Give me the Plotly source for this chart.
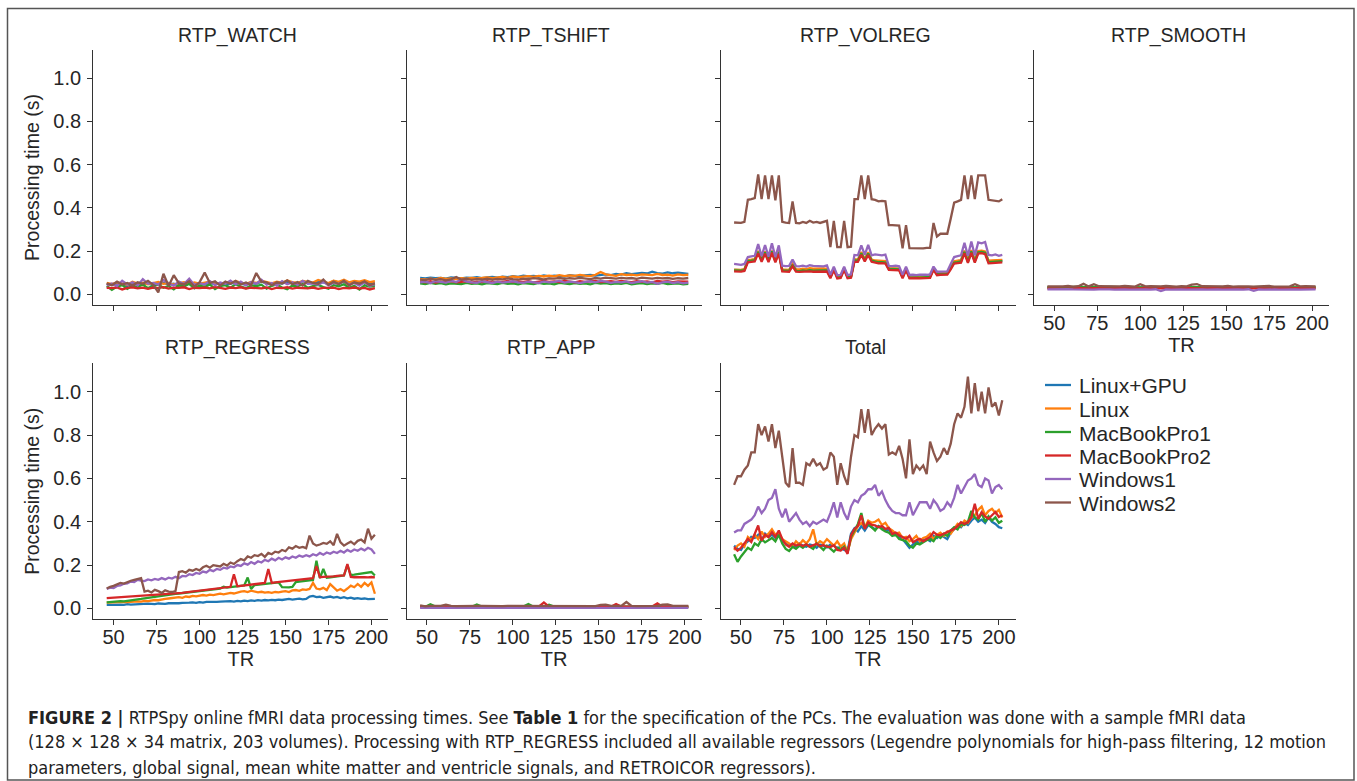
import plotly.graph_objects as go

# ---------------- data (milliseconds) ----------------
TR2 = list(range(46, 203, 2))   # 79 TRs
TR3 = list(range(46, 203, 3))   # 53 TRs

SERIES = ["Linux+GPU", "Linux", "MacBookPro1", "MacBookPro2", "Windows1", "Windows2"]
COLORS = ["#1f77b4", "#ff7f0e", "#2ca02c", "#d62728", "#9467bd", "#8c564b"]
PANELS = ["RTP_WATCH", "RTP_TSHIFT", "RTP_VOLREG", "RTP_SMOOTH", "RTP_REGRESS", "RTP_APP", "Total"]
YTICKS = [0.0, 0.2, 0.4, 0.6, 0.8, 1.0]
XTICKS = [50, 75, 100, 125, 150, 175, 200]

watch_gpu = [48,42,50,45,38,52,47,44,50,41, 46,53,44,49,40,47,51,43,48,45, 52,46,50,42,47,55,49,44,52,48,
             58,50,46,54,49,57,52,48,60,53, 50,58,55,49,61,54,57,50,59,52, 56,48,50]
watch_linux = [52,47,55,50,44,58,49,53,46,51, 57,48,52,45,50,56,47,54,49,52, 58,50,47,55,51,60,53,48,57,52,
               62,55,50,58,53,64,56,52,61,57, 54,66,58,52,63,57,67,55,62,58, 65,56,60]
watch_mbp1 = [38,20,35,42,25,40,33,45,28,39, 44,30,38,22,41,36,48,27,40,33, 45,24,38,42,30,46,35,28,41,37,
              44,26,39,45,31,23,40,36,47,29, 38,43,33,25,42,37,46,30,39,22, 41,35,38]
watch_mbp2 = [30,28,31,22,29,32,27,30,25,31, 28,33,26,30,29,32,24,30,28,31, 27,33,29,25,31,28,32,26,30,29,
              27,31,24,30,28,32,26,30,29,27, 31,25,29,28,30,24,29,27,31,26, 29,22,28]
watch_win1 = [42,50,38,62,45,55,40,70,48,52, 44,66,50,40,58,47,72,43,51,46, 60,42,54,48,63,45,58,41,56,49,
              67,44,52,40,60,46,55,43,62,48, 50,44,57,41,53,47,61,45,52,40, 55,38,46]
watch_win2 = [50,42,58,45,52,40,55,48,62,44, 8,95,38,88,50,45,60,35,55,100, 52,60,40,58,48,62,45,54,42,98,
              58,55,42,55,50,64,46,56,40,62, 52,48,68,44,58,46,62,40,55,48, 60,42,50]

tshift_gpu = [75,73,77,74,76,72,78,75,73,77, 76,79,74,78,80,77,81,79,84,80, 86,82,85,81,87,83,86,84,82,88,
              85,83,87,89,86,90,92,88,94,91, 97,93,95,99,96,104,98,95,101,97, 100,96,94]
tshift_linux = [70,68,72,69,75,71,73,70,74,72, 76,73,75,78,74,77,80,76,82,79, 81,84,80,85,82,86,83,88,84,87,
                85,89,86,84,90,103,92,88,85,93, 89,91,87,92,90,88,94,89,91,86, 92,88,90]
tshift_mbp1 = [50,47,52,48,51,46,50,49,47,52, 48,50,46,51,49,47,52,48,50,46, 51,49,47,53,48,50,46,52,49,47,
               51,48,50,46,52,49,51,47,50,48, 52,46,49,51,47,50,48,52,47,49, 50,46,48]
tshift_mbp2 = [58,55,60,54,58,56,61,55,57,59, 54,58,56,60,55,58,57,61,56,59, 57,60,55,58,62,57,59,56,61,58,
               55,60,57,59,62,56,58,60,57,61, 58,56,60,57,59,55,61,58,60,56, 59,57,58]
tshift_win1 = [55,58,52,60,57,54,62,56,68,58, 55,53,60,56,52,58,54,57,60,55, 53,58,56,52,59,55,57,62,54,58,
               56,51,57,60,55,62,58,53,57,55, 59,52,56,60,54,57,48,55,58,52, 56,50,54]
tshift_win2 = [68,65,72,66,70,64,69,80,67,71, 66,70,68,72,67,71,69,73,70,68, 72,70,74,71,69,73,72,75,71,74,
               72,76,73,70,75,72,77,74,72,76, 73,75,71,77,74,72,76,73,75,71, 74,72,75]

volreg_gpu = [112,110,111,114,156,158,160,197,158,195, 157,199,155,196,112,111,110,138,112,111,
              114,112,116,114,115,113,116,114,80,119, 79,81,120,80,82,160,158,192,160,191,
              158,153,151,152,150,119,118,120,117,80, 118,79,81,80,79,81,80,82,119,94,
              96,95,97,122,150,153,156,199,153,201, 154,197,199,195,152,153,154,155,156]
volreg_linux = [114,112,113,116,158,160,163,200,161,198, 160,202,158,199,115,114,113,140,116,115,
                118,116,120,118,119,117,120,118,82,121, 81,83,122,82,84,162,160,195,162,194,
                160,156,154,155,153,121,120,122,119,82, 120,81,83,82,81,83,82,84,121,96,
                98,97,99,125,152,155,158,202,156,204, 157,200,202,198,155,156,157,158,159]
volreg_mbp1 = [110,108,109,112,153,155,158,196,156,194, 155,198,153,195,110,109,108,136,108,107,
               110,108,111,109,110,108,111,110,78,117, 77,79,118,78,80,156,155,190,157,188,
               155,150,148,149,147,117,116,118,115,78, 116,77,79,78,77,79,78,80,117,92,
               94,93,95,120,147,149,152,196,150,198, 151,194,196,192,149,150,151,152,153]
volreg_mbp2 = [106,104,105,108,148,150,152,190,150,188, 149,192,148,188,106,105,104,130,104,103,
               105,104,106,104,105,103,106,105,74,112, 73,75,113,74,76,151,150,183,152,182,
               150,145,143,144,142,113,112,114,111,74, 112,73,75,74,73,75,74,76,113,88,
               90,89,91,115,142,144,146,190,145,192, 146,188,190,186,143,144,145,146,147]
volreg_win1 = [140,138,136,140,172,175,178,232,176,228, 174,236,172,226,132,130,131,160,130,129,
               132,128,134,131,130,132,129,133,90,128, 88,90,127,88,92,182,180,226,182,228,
               180,184,182,180,183,131,130,132,129,90, 128,89,90,88,91,89,90,92,128,104,
               105,104,106,140,172,176,180,238,178,244, 180,240,236,242,182,180,184,178,182]
volreg_win2 = [332,330,330,335,437,440,445,555,440,550, 440,550,435,550,335,332,330,430,330,328,
               335,330,340,332,335,330,336,340,218,340, 218,218,340,218,220,440,440,550,440,550,
               440,437,430,432,430,320,320,320,318,213, 320,213,213,210,213,212,215,215,330,267,
               280,280,280,350,424,430,437,550,440,550, 440,550,550,550,437,435,432,430,440]

smooth_gpu = [30,31,29,30,32,30,29,31,30,32, 29,30,31,30,29,32,30,31,29,30, 31,29,30,32,30,31,29,30,31,30,
              32,29,30,31,29,30,32,30,29,31, 30,29,31,30,32,29,30,31,30,29, 31,30,30]
smooth_linux = [29,28,30,29,27,30,29,31,28,29, 30,28,29,31,28,30,29,28,30,29, 31,28,29,30,28,29,31,29,28,30,
                29,28,30,29,31,28,29,30,28,29, 30,29,28,31,29,30,28,29,30,28, 29,30,29]
smooth_mbp1 = [33,32,34,33,32,34,33,32,33,34, 32,33,34,32,33,32,34,33,32,33, 34,32,33,32,34,33,32,33,34,32,
               33,34,32,33,32,34,33,32,33,34, 32,33,34,32,33,32,34,33,32,33, 34,32,33]
smooth_mbp2 = [27,28,27,26,28,27,28,26,27,28, 27,26,28,27,28,27,26,28,27,28, 26,27,28,27,26,28,27,28,27,26,
               28,27,28,26,27,28,27,26,28,27, 28,27,26,28,27,28,26,27,28,27, 26,28,27]
smooth_win1 = [22,23,21,22,23,22,21,23,22,21, 22,23,22,21,23,22,21,22,23,22, 21,23,15,22,21,23,22,21,22,23,
               22,21,23,22,21,22,23,22,21,23, 16,22,21,23,22,21,22,23,22,21, 22,23,22]
smooth_win2 = [36,35,37,36,38,35,37,48,36,46, 37,36,35,37,36,38,36,35,46,36, 37,35,36,38,36,35,37,36,44,47,
               37,36,35,37,36,38,35,36,37,36, 35,37,36,38,35,36,37,36,46,36, 37,35,36]

regress_gpu = [17,18,16,19,18,17,20,18,19,21, 19,20,22,21,20,23,22,21,24,23, 25,24,26,25,27,28,26,29,27,30,
               29,31,30,32,33,31,34,32,35,33, 36,34,37,35,38,36,39,37,40,38, 41,39,42,44,41,43,45,42,44,55,
               58,52,54,49,51,55,50,53,48,52, 47,50,45,48,44,46,43,45,44]
regress_linux = [27,28,26,29,28,30,29,31,30,33, 32,35,34,37,39,38,42,44,46,48, 50,52,49,55,53,58,56,60,62,59,
                 64,62,66,68,65,70,72,69,75,78, 80,76,82,79,74,77,73,75,72,76, 74,78,80,76,83,85,81,88,86,90,
                 118,92,88,95,85,112,96,82,90,80, 92,105,98,113,100,118,104,120,68]
regress_mbp1 = [28,30,29,32,34,33,36,38,40,42, 44,47,49,52,54,56,58,61,63,65, 67,69,71,73,75,77,79,80,82,84,
                86,88,90,92,100,96,98,100,102,104, 106,143,90,108,110,112,114,116,118,119,
                120,98,96,97,99,122,124,126,128,130, 132,220,140,182,142,144,146,148,150,152,
                200,154,156,158,160,162,164,168,152]
regress_mbp2 = [48,49,50,51,52,53,54,55,55,56, 57,58,59,60,61,62,63,64,65,66, 68,70,72,74,76,78,80,82,84,86,
                88,90,92,94,96,98,100,158,102,104, 106,108,110,112,114,116,118,182,118,120,
                122,124,126,128,128,130,132,134,136,138, 140,196,144,146,146,148,148,150,150,152,
                205,145,144,145,143,144,143,145,143]
regress_win1 = [90,96,94,104,106,114,116,124,122,132, 128,126,134,130,136,132,140,134,142,138,
                146,140,150,148,158,154,164,160,170,166, 178,172,182,178,188,184,194,190,200,196,
                208,202,214,206,218,212,224,218,230,222, 234,226,236,230,240,234,244,238,246,240,
                250,244,256,248,258,252,262,256,266,258, 270,262,272,266,276,268,280,272,252]
regress_win2 = [92,100,104,110,118,115,122,128,132,136, 140,78,82,74,86,80,72,84,78,76,
                80,168,172,165,178,174,182,176,190,197, 188,200,196,194,206,198,212,205,218,228,
                222,240,234,246,242,252,238,256,250,262, 258,270,264,282,276,288,280,284,278,336,
                300,290,295,302,298,310,292,344,305,290, 300,308,296,312,318,305,368,322,340]

app_gpu = [6,5,6,5,6,5,6,5,6,5, 5,6,5,6,5,6,5,6,5,6, 6,5,6,5,6,5,6,5,6,5, 5,6,5,6,5,6,5,6,5,6,
           6,5,6,5,6,5,6,5,6,5, 5,6,5]
app_linux = [7,8,7,7,8,7,8,7,7,8, 7,8,7,7,8,7,8,7,7,8, 7,7,8,7,8,7,7,8,7,8, 7,8,7,7,8,7,8,7,7,8,
             7,8,7,8,7,7,8,7,8,7, 7,8,7]
app_mbp1 = [9,8,19,9,8,9,8,9,8,9, 8,18,9,8,9,8,9,8,9,8, 9,20,8,9,8,17,9,8,9,8, 9,8,9,8,9,8,9,8,9,8,
            9,8,9,8,9,8,9,8,9,8, 9,8,9]
app_mbp2 = [8,9,8,8,9,8,8,9,8,8, 9,8,8,9,8,8,9,8,8,9, 8,8,9,8,28,8,9,8,8,9, 8,8,9,8,8,9,8,8,20,9,
            8,8,9,8,8,9,24,8,9,8, 8,9,8]
app_win1 = [3,4,3,3,4,3,4,3,3,4, 3,4,3,4,3,3,4,3,4,3, 3,4,3,3,4,3,4,3,3,4, 3,4,3,4,3,3,4,3,4,3,
            3,4,3,3,4,3,4,3,3,4, 3,4,3]
app_win2 = [14,10,12,11,12,17,12,11,12,12, 11,12,12,11,12,12,11,12,12,11, 12,12,11,12,12,11,12,12,11,12,
            12,11,12,12,11,17,18,12,11,12, 30,12,11,12,12,11,12,18,19,12, 11,12,12]

total_gpu = [290,275,270,295,310,330,325,340,315,345, 330,340,325,350,310,300,290,295,285,300,
             290,285,295,290,280,295,288,282,295,290, 278,285,270,265,345,370,355,380,360,385,
             375,365,380,370,360,365,340,345,330,320, 300,280,295,310,300,315,320,310,335,325,
             340,330,320,350,365,385,375,395,385,405, 420,400,410,395,420,400,390,375,370]
total_linux = [270,290,300,285,330,315,340,320,355,330, 345,365,340,350,320,310,300,285,310,295,
               315,300,320,365,295,310,300,320,305,290, 310,285,300,260,320,350,380,395,375,405,
               395,400,410,385,395,370,360,345,350,325, 330,310,320,335,310,325,330,345,320,340,
               350,335,355,345,370,390,380,405,395,420, 430,455,470,430,450,460,440,455,420]
total_mbp1 = [250,215,240,260,280,270,300,290,320,305, 315,325,310,340,300,275,265,285,275,290,
              280,295,285,275,300,285,270,290,275,262, 280,270,285,258,330,360,390,440,370,390,
              375,360,380,365,355,350,335,340,320,315, 310,290,280,300,295,305,315,320,310,335,
              325,345,335,360,375,365,390,385,400,450, 420,410,440,400,425,405,420,395,405]
total_mbp2 = [283,267,280,300,321,306,345,383,313,340, 329,352,330,360,320,295,285,300,290,295,
              288,296,285,292,298,287,293,285,283,292, 270,267,280,252,337,367,380,430,367,398,
              385,383,375,380,367,372,344,350,337,330, 321,335,306,315,321,310,321,330,352,340,
              337,345,352,360,367,380,398,390,398,420, 483,414,445,425,414,430,445,422,430]
total_win1 = [350,360,360,390,400,410,430,470,440,460, 500,510,550,460,420,460,400,420,440,410,
              390,400,380,400,390,400,410,400,440,490, 420,490,440,410,470,500,490,520,530,550,
              550,570,520,540,500,470,450,440,440,430, 430,490,430,460,490,490,490,460,500,480,
              450,460,490,470,510,570,530,560,590,600, 620,570,560,600,590,530,560,570,550]
total_win2 = [570,610,610,640,660,720,720,850,800,840, 770,850,740,820,700,580,560,740,580,580,
              570,670,660,690,660,670,640,650,720,700, 570,670,610,570,700,800,790,920,810,920,
              800,830,850,830,850,710,720,710,750,690, 600,780,620,660,640,660,620,770,720,680,
              700,740,710,760,850,900,880,930,1070,900, 1040,910,1000,900,1020,930,950,890,960]

PANEL_DATA = [
    (TR3, [watch_gpu, watch_linux, watch_mbp1, watch_mbp2, watch_win1, watch_win2]),
    (TR3, [tshift_gpu, tshift_linux, tshift_mbp1, tshift_mbp2, tshift_win1, tshift_win2]),
    (TR2, [volreg_gpu, volreg_linux, volreg_mbp1, volreg_mbp2, volreg_win1, volreg_win2]),
    (TR3, [smooth_gpu, smooth_linux, smooth_mbp1, smooth_mbp2, smooth_win1, smooth_win2]),
    (TR2, [regress_gpu, regress_linux, regress_mbp1, regress_mbp2, regress_win1, regress_win2]),
    (TR3, [app_gpu, app_linux, app_mbp1, app_mbp2, app_win1, app_win2]),
    (TR2, [total_gpu, total_linux, total_mbp1, total_mbp2, total_win1, total_win2]),
]

# ---------------- layout geometry (pixels) ----------------
W, H = 1357, 781
COL_X0 = [93.3, 406.7, 720.7, 1034.0]
AX_W = 295.0
ROW_TOP = [50.0, 363.3]
ROW_BOT = [305.0, 619.3]
CELLS = [(0, 0), (0, 1), (0, 2), (0, 3), (1, 0), (1, 1), (1, 2)]

FONT = "Liberation Sans, Arial, Helvetica, sans-serif"
TXT = "#262626"
AXC = "#333333"


def fx(p):
    return p / W


def fy(p):
    return 1 - p / H


fig = go.Figure()
layout = dict(
    width=W, height=H, margin=dict(l=0, r=0, t=0, b=0),
    paper_bgcolor="white", plot_bgcolor="white", showlegend=False,
    font=dict(family=FONT, color=TXT, size=20),
)
annotations = []
shapes = []

for k, ((r, c), name, (trs, series)) in enumerate(zip(CELLS, PANELS, PANEL_DATA)):
    idx = "" if k == 0 else str(k + 1)
    for j, vals in enumerate(series):
        fig.add_trace(go.Scatter(
            x=trs[:len(vals)], y=[v / 1000 for v in vals], mode="lines",
            line=dict(color=COLORS[j], width=2.3), name=SERIES[j],
            xaxis="x" + idx, yaxis="y" + idx, showlegend=False,
        ))
    show_x = (r == 1) or (k == 3)
    show_y = (c == 0)
    layout["xaxis" + idx] = dict(
        domain=[fx(COL_X0[c]), fx(COL_X0[c] + AX_W)], anchor="y" + idx,
        range=[38.2, 209.8], tickvals=XTICKS, showticklabels=show_x,
        ticks="outside", ticklen=5, tickwidth=1.25, tickcolor=AXC, ticklabelstandoff=-5,
        showline=True, linecolor=AXC, linewidth=1.25, showgrid=False, zeroline=False,
        tickfont=dict(size=20, color=TXT, family=FONT),
        title=dict(text="TR" if show_x else "", font=dict(size=20, color=TXT, family=FONT), standoff=0),
    )
    layout["yaxis" + idx] = dict(
        domain=[fy(ROW_BOT[r]), fy(ROW_TOP[r])], anchor="x" + idx,
        range=[-0.05, 1.131], tickvals=YTICKS, tickformat=".1f", showticklabels=show_y,
        ticks="outside", ticklen=5, tickwidth=1.25, tickcolor=AXC, ticklabelstandoff=2,
        showline=True, linecolor=AXC, linewidth=1.25, showgrid=False, zeroline=False,
        tickfont=dict(size=20, color=TXT, family=FONT),
        title=dict(text="Processing time (s)" if show_y else "",
                   font=dict(size=19.5, color=TXT, family=FONT), standoff=8),
    )
    title_y = 35 if r == 0 else 347
    annotations.append(dict(
        text=name, x=fx(COL_X0[c] + AX_W / 2 - 3), y=fy(title_y), xref="paper", yref="paper",
        xanchor="center", yanchor="middle", showarrow=False,
        font=dict(size=19.5, color=TXT, family=FONT),
    ))

# legend (drawn in the empty eighth cell)
for j, label in enumerate(SERIES):
    ypx = 385 + 23.5 * j
    shapes.append(dict(type="line", xref="paper", yref="paper",
                       x0=fx(1045), x1=fx(1071), y0=fy(ypx), y1=fy(ypx),
                       line=dict(color=COLORS[j], width=2.3)))
    annotations.append(dict(
        text=label, x=fx(1078), y=fy(ypx + 1), xref="paper", yref="paper",
        xanchor="left", yanchor="middle", showarrow=False, borderpad=0,
        font=dict(size=21, color=TXT, family=FONT),
    ))

# caption
CAPTION = [
    "<b>FIGURE 2 |</b> RTPSpy online fMRI data processing times. See <b>Table 1</b> for the specification "
    "of the PCs. The evaluation was done with a sample fMRI data",
    "(128 × 128 × 34 matrix, 203 volumes). Processing with RTP_REGRESS included all available regressors "
    "(Legendre polynomials for high-pass filtering, 12 motion",
    "parameters, global signal, mean white matter and ventricle signals, and RETROICOR regressors).",
]
CAP_FONT = "Liberation Sans Narrow, Arial Narrow, DejaVu Sans Condensed, sans-serif"
for i, line in enumerate(CAPTION):
    annotations.append(dict(
        text=line, x=fx(26), y=fy(717 + 25 * i), xref="paper", yref="paper",
        xanchor="left", yanchor="middle", showarrow=False, align="left",
        font=dict(size=18, color="#222222", family=CAP_FONT),
    ))

# outer frame
shapes.append(dict(type="rect", xref="paper", yref="paper",
                   x0=fx(7.5), x1=fx(1354), y0=fy(780), y1=fy(8.5),
                   line=dict(color="#555555", width=1.5), fillcolor="rgba(0,0,0,0)", layer="below"))

layout["annotations"] = annotations
layout["shapes"] = shapes
fig.update_layout(**layout)

fig.write_html("out.html", config={"displayModeBar": False},
               post_script="document.body.style.margin='0';document.body.style.overflow='hidden';")
